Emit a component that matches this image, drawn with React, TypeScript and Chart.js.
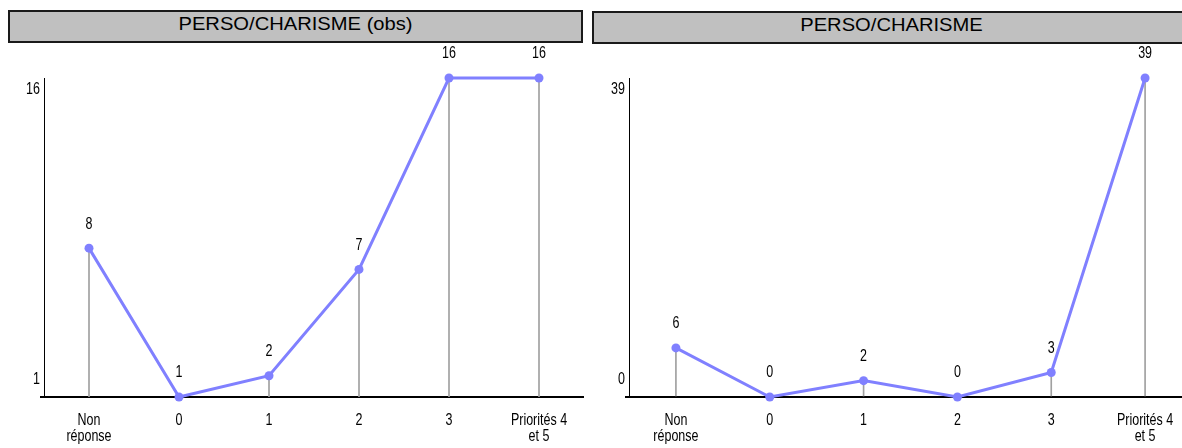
import React, { useEffect, useRef } from 'react';
import { Chart, registerables } from 'chart.js';

Chart.register(...registerables);

const categories: string[][] = [['Non', 'réponse'], ['0'], ['1'], ['2'], ['3'], ['Priorités 4', 'et 5']];
const obsValues = [8, 1, 2, 7, 16, 16];
const pctValues = [6, 0, 2, 0, 3, 39];
const obsYTicks = [1, 16];
const pctYTicks = [0, 39];
const obsTitle = 'PERSO/CHARISME (obs)';
const pctTitle = 'PERSO/CHARISME';

const FONT = "'Liberation Sans', Arial, sans-serif";
const LINE_COLOR = '#8080FF';
const DROP_COLOR = '#a0a0a0';
const TEXT_SIZE = 16;
const NARROW = 0.78;
const TITLE_SIZE = 18;
const TITLE_STRETCH = 1.12;

Chart.defaults.font.family = FONT;

function drawNarrow(ctx: CanvasRenderingContext2D, text: string, x: number, y: number, align: CanvasTextAlign) {
  ctx.save();
  ctx.translate(x, y);
  ctx.scale(NARROW, 1);
  ctx.textAlign = align;
  ctx.textBaseline = 'middle';
  ctx.fillText(text, 0, 0);
  ctx.restore();
}

function makeLabelsPlugin(yTicks: number[]) {
  return {
    id: 'valueLabels',
    afterDraw(chart: any) {
      const ctx = chart.ctx as CanvasRenderingContext2D;
      const area = chart.chartArea;
      const yScale = chart.scales.y;
      const xScale = chart.scales.x;
      ctx.save();
      ctx.fillStyle = '#000';
      ctx.font = `${TEXT_SIZE}px ${FONT}`;
      // y-axis end labels
      const [yMin, yMax] = yTicks;
      drawNarrow(ctx, String(yMax), area.left - 4, yScale.getPixelForValue(yMax) + 12, 'right');
      drawNarrow(ctx, String(yMin), area.left - 4, yScale.getPixelForValue(yMin) - 17, 'right');
      // category labels
      (chart.data.labels as string[][]).forEach((lines, i) => {
        const x = xScale.getPixelForTick(i);
        lines.forEach((line, j) => {
          drawNarrow(ctx, line, x, area.bottom + 24 + j * 16, 'center');
        });
      });
      // value labels above points
      const meta = chart.getDatasetMeta(0);
      const data = chart.data.datasets[0].data;
      meta.data.forEach((el: any, i: number) => {
        drawNarrow(ctx, String(data[i]), el.x, el.y - 24, 'center');
      });
      ctx.restore();
    },
  };
}

function LineChart({ values, yTicks, width, height, yAxisWidth }: { values: number[]; yTicks: number[]; width: number; height: number; yAxisWidth: number }) {
  const ref = useRef<HTMLCanvasElement>(null);
  useEffect(() => {
    const [yMin, yMax] = yTicks;
    const chart = new Chart(ref.current as HTMLCanvasElement, {
      type: 'line',
      data: {
        labels: categories as any,
        datasets: [
          {
            type: 'line',
            data: values,
            borderColor: LINE_COLOR,
            backgroundColor: LINE_COLOR,
            borderWidth: 3,
            pointRadius: 4.5,
            pointBackgroundColor: LINE_COLOR,
            pointBorderWidth: 0,
            tension: 0,
            clip: false as any,
            order: 0,
          } as any,
          {
            type: 'bar',
            data: values,
            backgroundColor: DROP_COLOR,
            barThickness: 1,
            order: 1,
          } as any,
        ],
      },
      options: {
        responsive: false,
        animation: false,
        events: [],
        layout: { autoPadding: false, padding: { top: 33, left: 0, right: 0, bottom: 0 } },
        plugins: {
          legend: { display: false },
          tooltip: { enabled: false },
        },
        scales: {
          x: {
            offset: true,
            grid: { display: false },
            border: { display: true, color: '#000', width: 2 },
            ticks: { display: false, autoSkip: false },
            afterFit: (s: any) => {
              s.height = 51;
              s.paddingLeft = 0;
              s.paddingRight = 0;
            },
          },
          y: {
            min: yMin,
            max: yMax,
            grid: {
              display: true,
              drawOnChartArea: false,
              drawTicks: true,
              tickLength: 4,
              lineWidth: 2,
              color: (c: any) => (c.tick && c.tick.value === yMin ? '#000' : 'rgba(0,0,0,0)'),
            },
            border: { display: true, color: '#000', width: 1 },
            ticks: { display: false },
            afterBuildTicks: (s: any) => {
              s.ticks = yTicks.map((v) => ({ value: v }));
            },
            afterFit: (s: any) => {
              s.width = yAxisWidth;
              s.paddingTop = 0;
              s.paddingBottom = 0;
            },
          } as any,
        },
      },
      plugins: [makeLabelsPlugin(yTicks)],
    });
    return () => chart.destroy();
  }, []);
  return <canvas ref={ref} width={width} height={height} style={{ display: 'block', width, height }} />;
}

const titleStyle = (left: number, top: number, width: number): React.CSSProperties => ({
  position: 'absolute',
  left,
  top,
  width,
  height: 33,
  boxSizing: 'border-box',
  border: '2px solid #1a1a1a',
  background: '#C0C0C0',
  fontFamily: FONT,
  fontSize: TITLE_SIZE,
  lineHeight: '24px',
  textAlign: 'center',
  color: '#000',
  whiteSpace: 'nowrap',
  overflow: 'hidden',
});

function Title({ text, left, top, width }: { text: string; left: number; top: number; width: number }) {
  return (
    <div style={titleStyle(left, top, width)}>
      <span style={{ display: 'inline-block', transform: `scaleX(${TITLE_STRETCH})`, transformOrigin: 'center' }}>{text}</span>
    </div>
  );
}

export default function App() {
  return (
    <div style={{ position: 'absolute', left: 0, top: 0, width: 1182, height: 448, overflow: 'hidden', background: '#fff' }}>
      <Title text={obsTitle} left={8} top={10} width={575} />
      <div style={{ position: 'absolute', left: 8, top: 45 }}>
        <LineChart values={obsValues} yTicks={obsYTicks} width={576} height={403} yAxisWidth={36} />
      </div>
      <Title text={pctTitle} left={592} top={11} width={600} />
      <div style={{ position: 'absolute', left: 592, top: 45 }}>
        <LineChart values={pctValues} yTicks={pctYTicks} width={600} height={403} yAxisWidth={37} />
      </div>
    </div>
  );
}
